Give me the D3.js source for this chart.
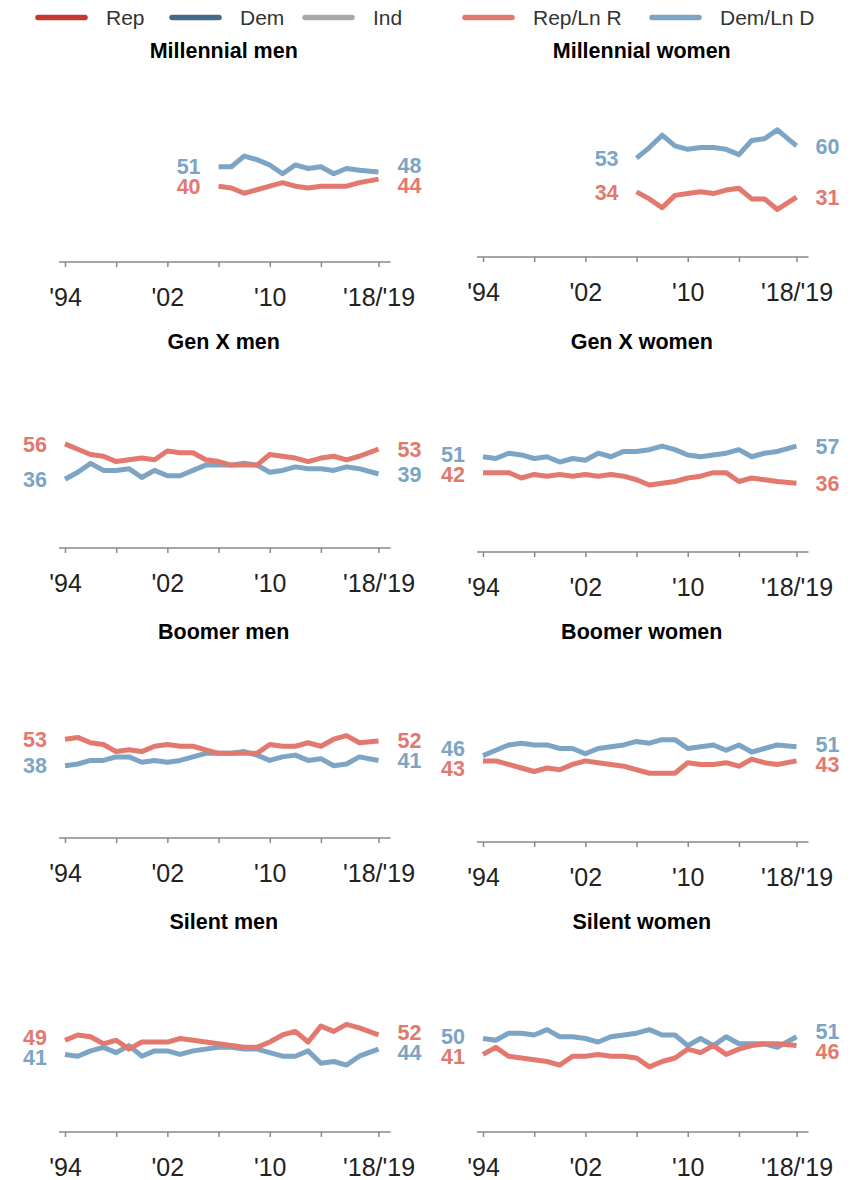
<!DOCTYPE html>
<html>
<head>
<meta charset="utf-8">
<script src="https://cdnjs.cloudflare.com/ajax/libs/d3/7.8.5/d3.min.js"></script>
<style>
  body { margin: 0; background: #fff; }
  svg { display: block; font-family: "Liberation Sans", Arial, sans-serif; }
</style>
</head>
<body>
<div id="grafica"></div>
<script>
// years: annual 1994-2017, then 2018/19 combined
var years = [1994, 1995, 1996, 1997, 1998, 1999, 2000, 2001, 2002, 2003, 2004, 2005,
             2006, 2007, 2008, 2009, 2010, 2011, 2012, 2013, 2014, 2015, 2016, 2017, 2018.5];
var tickYears = [1994, 1998, 2002, 2006, 2010, 2014, 2018.5];
var tickLabels = {1994: "'94", 2002: "'02", 2010: "'10", 2018.5: "'18/'19"};

var n = null;
// Rep/Ln R and Dem/Ln D, % of each group
var millMenRep   = [n,n,n,n,n,n,n,n,n,n,n,n, 40,39,36,38,40,42,40,39,40,40,40,42,44];
var millMenDem   = [n,n,n,n,n,n,n,n,n,n,n,n, 51,51,57,55,52,47,52,50,51,47,50,49,48];
var millWomenRep = [n,n,n,n,n,n,n,n,n,n,n,n, 34,30,25,32,33,34,33,35,36,30,30,24,31];
var millWomenDem = [n,n,n,n,n,n,n,n,n,n,n,n, 53,59,66,60,58,59,59,58,55,63,64,69,60];
var genXMenRep   = [56,53,50,49,46,47,48,47,52,51,51,47,46,44,44,44,50,49,48,46,48,49,47,49,53];
var genXMenDem   = [36,40,45,41,41,42,37,41,38,38,41,44,44,44,45,44,40,41,43,42,42,41,43,42,39];
var genXWomenRep = [42,42,42,39,41,40,41,40,41,40,41,40,38,35,36,37,39,40,42,42,37,39,38,37,36];
var genXWomenDem = [51,50,53,52,50,51,48,50,49,53,51,54,54,55,57,55,52,51,52,53,55,51,53,54,57];
var boomMenRep   = [53,54,51,50,46,47,46,49,50,49,49,47,45,45,45,45,50,49,49,51,49,53,55,51,52];
var boomMenDem   = [38,39,41,41,43,43,40,41,40,41,43,45,45,45,46,44,41,43,44,41,42,38,39,43,41];
var boomWomenRep = [43,43,41,39,37,39,38,41,43,42,41,40,38,36,36,36,42,41,41,42,40,44,42,41,43];
var boomWomenDem = [46,49,52,53,52,52,50,50,47,50,51,52,54,53,55,55,50,51,52,49,52,48,50,52,51];
var silMenRep    = [49,52,51,47,49,44,48,48,48,50,49,48,47,46,45,45,48,52,54,48,57,54,58,56,52];
var silMenDem    = [41,40,43,45,42,46,40,43,43,41,43,44,45,45,44,44,42,40,40,43,36,37,35,40,44];
var silWomenRep  = [41,45,40,39,38,37,35,40,40,41,40,40,39,34,37,39,44,42,46,41,44,46,47,47,46];
var silWomenDem  = [50,49,53,53,52,55,51,51,50,48,51,52,53,55,52,52,46,50,46,51,47,47,47,45,51];

var titles = ["Millennial men", "Millennial women", "Gen X men", "Gen X women",
              "Boomer men", "Boomer women", "Silent men", "Silent women"];
var repSeries = [millMenRep, millWomenRep, genXMenRep, genXWomenRep, boomMenRep, boomWomenRep, silMenRep, silWomenRep];
var demSeries = [millMenDem, millWomenDem, genXMenDem, genXWomenDem, boomMenDem, boomWomenDem, silMenDem, silWomenDem];

var legendNames = ["Rep", "Dem", "Ind", "Rep/Ln R", "Dem/Ln D"];

var repColor = "#e2786e",
    demColor = "#7ca4c4";
var legendColors = ["#c4392d", "#44698a", "#a8a8a8", repColor, demColor];
var legendX = [38, 172, 305, 465, 652];

var w = 854, h = 1180;
var colX = [65, 483];          // x of '94 in each column
var rowAxis = [[262, 257], [548, 552], [838, 842], [1132, 1132]];
var titleY = [58, 349, 639, 929];

var svg = d3.select("#grafica").append("svg")
    .attr("width", w)
    .attr("height", h);

svg.append("rect").attr("width", w).attr("height", h).attr("fill", "#fff");

// Leyenda
legendNames.forEach(function(name, i) {
    svg.append("line")
        .attr("x1", legendX[i]).attr("x2", legendX[i] + 47)
        .attr("y1", 17.5).attr("y2", 17.5)
        .attr("stroke", legendColors[i])
        .attr("stroke-width", 5.5)
        .attr("stroke-linecap", "round");
    svg.append("text")
        .attr("x", legendX[i] + 68)
        .attr("y", 25)
        .style("font-size", "21px")
        .style("fill", "#333")
        .text(name);
});

titles.forEach(function(title, p) {
    var col = p % 2, row = Math.floor(p / 2);
    var axisY = rowAxis[row][col];

    var x = d3.scaleLinear()
        .domain([1994, 2018.5])
        .range([colX[col], colX[col] + 313.5]);

    var y = d3.scaleLinear()
        .domain([0, 60])
        .range([axisY - 5, axisY - 5 - 106.2]);

    var g = svg.append("g");

    g.append("text")
        .attr("x", (x(1994) + x(2018.5)) / 2 + 2)
        .attr("y", titleY[row])
        .style("text-anchor", "middle")
        .style("font-size", "21.5px")
        .style("font-weight", "bold")
        .style("fill", "#000")
        .text(title);

    // axis
    var axis = g.append("g")
        .attr("transform", "translate(0," + axisY + ")")
        .call(d3.axisBottom(x)
            .tickValues(tickYears)
            .tickSize(5)
            .tickPadding(21)
            .tickFormat(function(d) { return tickLabels[d] || ""; }));
    axis.select(".domain").remove();
    axis.selectAll(".tick line").attr("stroke", "#888").attr("stroke-width", 1.5);
    axis.selectAll(".tick text")
        .style("font-size", "25px")
        .style("font-family", "Liberation Sans, Arial, sans-serif")
        .style("fill", "#222");
    axis.append("line")
        .attr("x1", x(1994) - 6).attr("x2", x(2018.5) + 12)
        .attr("y1", 0).attr("y2", 0)
        .attr("stroke", "#888")
        .attr("stroke-width", 1.5);

    var rep = repSeries[p], dem = demSeries[p];
    var line = d3.line()
        .defined(function(d) { return d != null; })
        .x(function(d, i) { return x(years[i]); })
        .y(function(d) { return y(d); });

    [[dem, demColor], [rep, repColor]].forEach(function(s) {
        g.append("path")
            .datum(s[0])
            .attr("fill", "none")
            .attr("stroke", s[1])
            .attr("stroke-width", 5)
            .attr("stroke-linejoin", "round")
            .attr("d", line);
    });

    // end labels, pushed apart when too close
    var first = rep.findIndex(function(d) { return d != null; }),
        last = rep.length - 1;
    [[first, "end", -18], [last, "start", 19]].forEach(function(e) {
        var i = e[0];
        var yr = y(rep[i]), yd = y(dem[i]);
        var gap = 20;
        if (Math.abs(yr - yd) < gap) {
            var mid = (yr + yd) / 2, s = yr > yd ? 1 : -1;
            yr = mid + s * gap / 2;
            yd = mid - s * gap / 2;
        }
        [[rep[i], yr, repColor], [dem[i], yd, demColor]].forEach(function(l) {
            g.append("text")
                .attr("x", x(years[i]) + e[2])
                .attr("y", l[1])
                .attr("dy", "0.36em")
                .style("text-anchor", e[1])
                .style("font-size", "21.5px")
                .style("font-weight", "bold")
                .style("fill", l[2])
                .text(l[0]);
        });
    });
});
</script>
</body>
</html>
